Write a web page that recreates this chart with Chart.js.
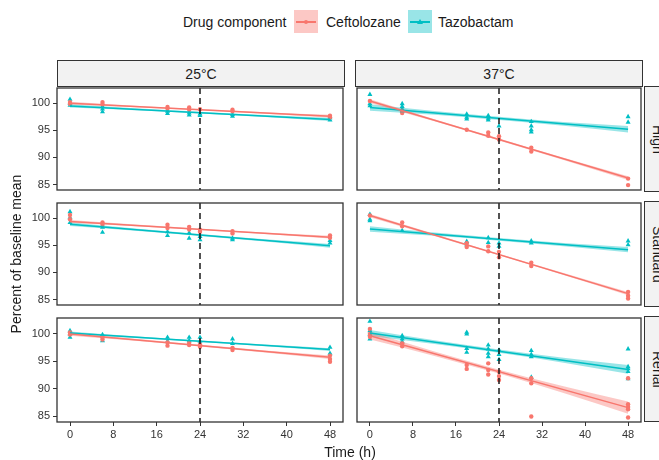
<!DOCTYPE html>
<html>
<head>
<meta charset="utf-8">
<script src="https://cdn.jsdelivr.net/npm/chart.js@4.4.1/dist/chart.umd.min.js"></script>
<style>
  body { margin: 0; width: 659px; height: 460px; overflow: hidden; background: #fff;
         font-family: "Liberation Sans", Arial, sans-serif; color: #1a1a1a; position: relative; }
  .abs { position: absolute; white-space: nowrap; }
  .strip { position: absolute; background: #f2f2f2; border: 1px solid #333; box-sizing: border-box;
           display: flex; align-items: center; justify-content: center; font-size: 14px; color: #1a1a1a; }
  .vstrip { writing-mode: vertical-rl; }
  .key { position: absolute; width: 24px; height: 23px; }
  .key .ln { position: absolute; left: 2px; right: 2px; top: 11px; height: 1.5px; }
  .key .dot { position: absolute; left: 10px; top: 10px; width: 4px; height: 4px; border-radius: 50%; }
  .key .tri { position: absolute; left: 9px; top: 9px; width: 0; height: 0;
              border-left: 3px solid transparent; border-right: 3px solid transparent; border-bottom: 5px solid #00BFC4; }
</style>
</head>
<body>

<script>
// axes / shared values
const timeTicks = [0, 8, 16, 24, 32, 40, 48];
const yTicks = [85, 90, 95, 100];
const refTime = 24;
const lineTimes = [0, 48];
const bandTimes = [0, 12, 24, 36, 48];
const temps = ['25°C', '37°C'];
const doses = ['High', 'Standard', 'Renal'];
const drugs = ['Ceftolozane', 'Tazobactam'];

// ---- 25°C ----
const cef25High = [[0,100.2],[0,99.9],[6,100.2],[6,99.8],[18,99.3],[18,99.0],[22,99.2],[22,98.8],[24,98.9],[30,98.8],[30,98.5],[48,97.7],[48,97.4]];
const taz25High = [[0,100.7],[0,100.0],[0,99.6],[6,99.4],[6,98.9],[6,98.4],[18,98.5],[18,98.1],[22,98.2],[22,97.8],[24,98.0],[24,97.7],[30,97.9],[30,97.6],[48,97.3],[48,96.9]];
const cef25HighLine = [100.0, 97.6];
const taz25HighLine = [99.5, 97.0];
const cef25HighLo = [99.75, 99.25, 98.68, 98.05, 97.35];
const cef25HighHi = [100.25, 99.55, 98.92, 98.35, 97.85];
const taz25HighLo = [99.2, 98.7, 98.1, 97.45, 96.7];
const taz25HighHi = [99.8, 99.06, 98.4, 97.81, 97.3];

const cef25Std = [[0,100.6],[0,99.8],[6,99.2],[6,98.8],[18,98.8],[18,98.2],[22,98.4],[22,97.9],[24,97.9],[24,97.5],[30,97.6],[30,97.2],[48,96.8],[48,96.4]];
const taz25Std = [[0,101.2],[0,100.1],[0,99.2],[6,98.3],[6,97.4],[18,97.5],[18,96.8],[22,97.3],[22,96.3],[24,96.6],[24,96.0],[30,96.3],[30,96.0],[48,95.9],[48,95.4]];
const cef25StdLine = [99.4, 96.5];
const taz25StdLine = [98.9, 94.9];
const cef25StdLo = [99.15, 98.53, 97.83, 97.08, 96.25];
const cef25StdHi = [99.65, 98.83, 98.07, 97.38, 96.75];
const taz25StdLo = [98.55, 97.7, 96.73, 95.7, 94.55];
const taz25StdHi = [99.25, 98.1, 97.07, 96.1, 95.25];

const cef25Ren = [[0,100.2],[0,99.8],[6,99.3],[6,98.9],[18,98.4],[18,97.8],[22,98.3],[22,97.9],[24,98.0],[24,97.6],[30,97.4],[30,97.0],[48,96.0],[48,95.4],[48,94.9]];
const taz25Ren = [[0,100.5],[0,99.9],[0,99.3],[6,99.8],[6,98.7],[18,99.3],[18,98.6],[22,99.3],[22,98.7],[24,99.3],[24,98.6],[30,99.0],[30,98.2],[48,97.5],[48,96.4]];
const cef25RenLine = [99.9, 95.7];
const taz25RenLine = [100.1, 97.1];
const cef25RenLo = [99.6, 98.67, 97.65, 96.57, 95.4];
const cef25RenHi = [100.2, 99.03, 97.95, 96.93, 96.0];
const taz25RenLo = [99.85, 99.2, 98.48, 97.7, 96.85];
const taz25RenHi = [100.35, 99.5, 98.72, 98.0, 97.35];

// ---- 37°C ----
const cef37High = [[0,100.4],[6,98.6],[6,98.2],[18,95.1],[22,94.6],[22,94.0],[24,93.9],[24,93.3],[30,91.8],[30,91.1],[48,86.1],[48,84.9]];
const taz37High = [[0,101.6],[0,99.9],[0,99.5],[6,99.9],[6,99.4],[6,98.9],[6,98.5],[18,98.0],[18,97.4],[18,97.1],[22,97.7],[22,97.2],[22,96.9],[24,95.8],[30,96.6],[30,95.8],[30,95.1],[30,94.7],[48,97.5],[48,96.5]];
const cef37HighLine = [100.4, 86.2];
const taz37HighLine = [99.2, 95.2];
const cef37HighLo = [100.05, 96.65, 93.12, 89.55, 85.85];
const cef37HighHi = [100.75, 97.05, 93.48, 89.95, 86.55];
const taz37HighLo = [98.6, 97.85, 96.9, 95.85, 94.6];
const taz37HighHi = [99.8, 98.55, 97.5, 96.55, 95.8];

const cef37Std = [[0,100.5],[6,99.2],[6,98.5],[18,95.4],[18,94.7],[22,94.8],[22,93.9],[24,93.8],[24,92.8],[30,91.8],[30,91.2],[48,86.4],[48,85.7],[48,85.2]];
const taz37Std = [[0,100.7],[0,99.8],[0,99.5],[6,97.7],[18,95.7],[18,95.1],[22,96.4],[22,95.5],[24,95.4],[24,94.8],[30,95.8],[30,95.4],[48,95.8],[48,95.1]];
const cef37StdLine = [100.5, 86.1];
const taz37StdLine = [98.0, 94.2];
const cef37StdLo = [100.2, 96.72, 93.15, 89.52, 85.8];
const cef37StdHi = [100.8, 97.08, 93.45, 89.88, 86.4];
const taz37StdLo = [97.5, 96.75, 95.85, 94.85, 93.7];
const taz37StdHi = [98.5, 97.35, 96.35, 95.45, 94.7];

const cef37Ren = [[0,100.8],[0,99.9],[0,99.4],[6,98.2],[6,97.7],[18,94.3],[18,93.6],[22,94.6],[22,93.4],[22,92.6],[24,93.1],[24,92.3],[24,91.6],[30,91.9],[30,91.0],[30,85.0],[48,91.9],[48,87.2],[48,86.7],[48,86.3],[48,84.8]];
const taz37Ren = [[0,102.2],[0,100.5],[0,99.8],[0,99.0],[6,99.6],[6,99.0],[6,98.5],[18,100.2],[18,99.9],[18,97.3],[18,96.6],[22,97.9],[22,97.2],[22,96.4],[22,95.8],[24,97.0],[24,96.2],[24,95.3],[30,96.9],[30,96.2],[30,95.8],[30,92.1],[48,97.2],[48,94.0],[48,93.6],[48,93.1],[48,91.8]];
const cef37RenLine = [99.6, 86.6];
const taz37RenLine = [100.1, 93.5];
const cef37RenLo = [98.9, 95.95, 92.75, 89.25, 85.5];
const cef37RenHi = [100.3, 96.75, 93.45, 90.45, 87.7];
const taz37RenLo = [99.55, 98.1, 96.5, 94.7, 92.7];
const taz37RenHi = [100.65, 98.8, 97.1, 95.6, 94.3];

const cefColor = '#F8766D', cefFill = 'rgba(248,118,109,0.4)';
const tazColor = '#00BFC4', tazFill = 'rgba(0,191,196,0.4)';

// panels[row][col]
const panels = [
  [
    { cef: [cef25High, cef25HighLine, cef25HighLo, cef25HighHi], taz: [taz25High, taz25HighLine, taz25HighLo, taz25HighHi] },
    { cef: [cef37High, cef37HighLine, cef37HighLo, cef37HighHi], taz: [taz37High, taz37HighLine, taz37HighLo, taz37HighHi] }
  ],
  [
    { cef: [cef25Std, cef25StdLine, cef25StdLo, cef25StdHi], taz: [taz25Std, taz25StdLine, taz25StdLo, taz25StdHi] },
    { cef: [cef37Std, cef37StdLine, cef37StdLo, cef37StdHi], taz: [taz37Std, taz37StdLine, taz37StdLo, taz37StdHi] }
  ],
  [
    { cef: [cef25Ren, cef25RenLine, cef25RenLo, cef25RenHi], taz: [taz25Ren, taz25RenLine, taz25RenLo, taz25RenHi] },
    { cef: [cef37Ren, cef37RenLine, cef37RenLo, cef37RenHi], taz: [taz37Ren, taz37RenLine, taz37RenLo, taz37RenHi] }
  ]
];

// layout (px)
const colLeft = [57, 355];
const rowTop = [86, 201, 316];
const panelW = 288, panelH = 106;

function addDiv(cls, css, text) {
  const d = document.createElement('div');
  d.className = cls;
  d.style.cssText = css;
  if (text) d.textContent = text;
  document.body.appendChild(d);
  return d;
}

// panel border + reference line
const panelDecor = {
  id: 'panelDecor',
  afterDatasetsDraw(chart) {
    const { ctx, chartArea: a, scales } = chart;
    const x = scales.x.getPixelForValue(refTime);
    ctx.save();
    ctx.strokeStyle = '#1a1a1a';
    ctx.lineWidth = 1.5;
    ctx.setLineDash([6, 4]);
    ctx.beginPath();
    ctx.moveTo(x, a.top);
    ctx.lineTo(x, a.bottom);
    ctx.stroke();
    ctx.setLineDash([]);
    ctx.strokeStyle = '#333';
    ctx.lineWidth = 1.3;
    ctx.strokeRect(a.left, a.top, a.right - a.left, a.bottom - a.top);
    ctx.restore();
  }
};

function drugSets(d, color, fill, style, radius) {
  const [pts, line, lo, hi] = d;
  return [
    { type: 'scatter', data: pts.map(p => ({ x: p[0], y: p[1] })), pointStyle: style, pointRadius: radius,
      backgroundColor: color, borderColor: color, borderWidth: 0, order: 3 },
    { type: 'line', data: bandTimes.map((t, i) => ({ x: t, y: lo[i] })), borderWidth: 0, pointRadius: 0,
      fill: false, cubicInterpolationMode: 'monotone', order: 2 },
    { type: 'line', data: bandTimes.map((t, i) => ({ x: t, y: hi[i] })), borderWidth: 0, pointRadius: 0,
      fill: '-1', backgroundColor: fill, cubicInterpolationMode: 'monotone', order: 2 },
    { type: 'line', data: lineTimes.map((t, i) => ({ x: t, y: line[i] })), borderColor: color, borderWidth: 1.5,
      pointRadius: 0, fill: false, order: 1 }
  ];
}

function makePanel(r, c) {
  const axisW = c === 0 ? 40 : 0, axisH = r === 2 ? 24 : 0, pad = 2;
  const w = panelW + axisW + 2 * pad, h = panelH + axisH + 2 * pad;
  const cv = document.createElement('canvas');
  cv.width = w; cv.height = h;
  cv.style.cssText = `position:absolute;left:${colLeft[c] - axisW - pad}px;top:${rowTop[r] - pad}px;width:${w}px;height:${h}px`;
  document.body.appendChild(cv);
  const p = panels[r][c];
  const tickFont = { family: '"Liberation Sans", Arial, sans-serif', size: 11 };
  new Chart(cv, {
    data: { datasets: [...drugSets(p.cef, cefColor, cefFill, 'circle', 2.2), ...drugSets(p.taz, tazColor, tazFill, 'triangle', 2.9)] },
    options: {
      responsive: false, animation: false, events: [],
      layout: { padding: pad },
      plugins: { legend: { display: false }, tooltip: { enabled: false } },
      scales: {
        x: {
          type: 'linear', min: -2.4, max: 50.4, display: r === 2,
          afterBuildTicks: s => { s.ticks = timeTicks.map(v => ({ value: v })); },
          afterFit: s => { s.height = axisH; s.paddingLeft = 0; s.paddingRight = 0; },
          ticks: { font: tickFont, color: '#333', padding: 2, maxRotation: 0, autoSkip: false },
          grid: { drawOnChartArea: false, drawTicks: true, tickLength: 4, color: '#333' },
          border: { display: false }
        },
        y: {
          type: 'linear', min: 84, max: 102.8, display: c === 0,
          afterBuildTicks: s => { s.ticks = yTicks.map(v => ({ value: v })); },
          afterFit: s => { s.width = axisW; s.paddingTop = 0; s.paddingBottom = 0; },
          ticks: { font: tickFont, color: '#333', padding: 3 },
          grid: { drawOnChartArea: false, drawTicks: true, tickLength: 4, color: '#333' },
          border: { display: false }
        }
      }
    },
    plugins: [panelDecor]
  });
}

// strips
temps.forEach((t, c) => addDiv('strip', `left:${colLeft[c]}px;top:60px;width:${panelW}px;height:27px`, t));
doses.forEach((d, r) => addDiv('strip vstrip', `left:644px;top:${rowTop[r]}px;width:27px;height:${panelH}px`, d));

for (let r = 0; r < 3; r++) for (let c = 0; c < 2; c++) makePanel(r, c);

// axis titles
addDiv('abs', 'left:-134px;top:246px;width:300px;line-height:16px;font-size:14px;text-align:center;transform:rotate(-90deg)', 'Percent of baseline mean');
addDiv('abs', 'left:200px;top:444px;width:300px;line-height:16px;font-size:14px;text-align:center', 'Time (h)');

// legend
addDiv('abs', 'left:183px;top:14px;line-height:16px;font-size:14px', 'Drug component');
const k1 = addDiv('key', `left:294px;top:10px;background:${cefFill}`);
k1.innerHTML = `<div class="ln" style="background:${cefColor}"></div><div class="dot" style="background:${cefColor}"></div>`;
addDiv('abs', 'left:326px;top:14px;line-height:16px;font-size:14px', drugs[0]);
const k2 = addDiv('key', `left:408px;top:10px;background:${tazFill}`);
k2.innerHTML = `<div class="ln" style="background:${tazColor}"></div><div class="tri"></div>`;
addDiv('abs', 'left:438px;top:14px;line-height:16px;font-size:14px', drugs[1]);
</script>
</body>
</html>
